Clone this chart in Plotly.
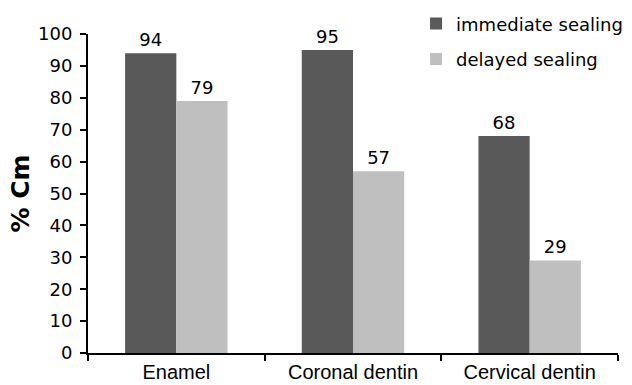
import plotly.graph_objects as go

categories = ["Enamel", "Coronal dentin", "Cervical dentin"]
immediate = [94, 95, 68]
delayed = [79, 57, 29]
yticks = [0, 10, 20, 30, 40, 50, 60, 70, 80, 90, 100]

FONT = "DejaVu Sans"

fig = go.Figure()
fig.add_trace(go.Bar(
    x=categories, y=immediate, name="immediate sealing",
    marker=dict(color="#595959", line=dict(width=0)),
    text=immediate, textposition="outside", cliponaxis=False,
    textfont=dict(family=FONT, size=18, color="black"),
    legendgroup="a",
))
fig.add_trace(go.Bar(
    x=categories, y=delayed, name="delayed sealing",
    marker=dict(color="#bfbfbf", line=dict(width=0)),
    text=delayed, textposition="outside", cliponaxis=False,
    textfont=dict(family=FONT, size=18, color="black"),
    legendgroup="b",
))

fig.update_layout(
    width=632, height=385,
    margin=dict(l=88, r=14, t=34, b=32, autoexpand=False),
    paper_bgcolor="white", plot_bgcolor="white",
    barmode="group", bargap=0.42, bargroupgap=0,
    font=dict(family=FONT, size=18, color="black"),
    showlegend=True,
    legend=dict(x=0.619, y=1.09, xanchor="left", yanchor="top",
                bgcolor="rgba(0,0,0,0)", tracegroupgap=9,
                font=dict(family=FONT, size=18, color="black")),
    xaxis=dict(showline=True, linecolor="black", linewidth=2,
               ticks="outside", tickson="boundaries", ticklen=6,
               tickcolor="black", tickwidth=2, showgrid=False,
               automargin=False,
               tickfont=dict(family="Liberation Sans", size=20)),
    yaxis=dict(range=[0, 100], tickvals=yticks, showline=True,
               linecolor="black", linewidth=2, ticks="outside",
               ticklen=6, tickcolor="black", tickwidth=2,
               showgrid=False, zeroline=False, automargin=False,
               ticklabelstandoff=4,
               tickfont=dict(family=FONT, size=18),
               title=dict(text="<b>% Cm</b>", font=dict(family=FONT, size=25),
                          standoff=1)),
)

fig.write_html("out.html", config={"displayModeBar": False},
               post_script="document.body.style.margin='0';document.body.style.overflow='hidden';")
